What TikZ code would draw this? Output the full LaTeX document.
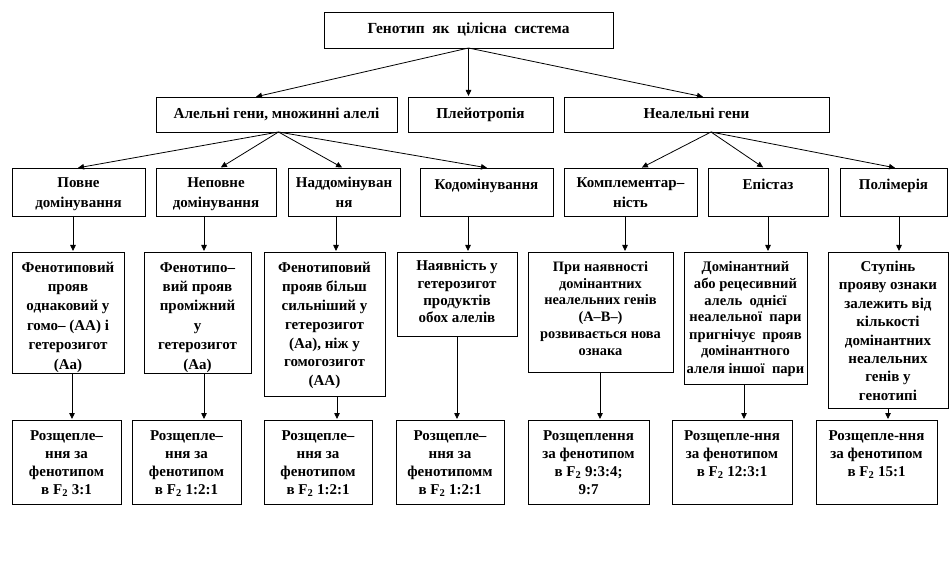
\documentclass[tikz,border=0pt]{standalone}
\usepackage{fontspec}
\setmainfont{Liberation Serif}
\usetikzlibrary{arrows.meta}
\tikzset{
  bx/.style={draw, line width=0.9pt, inner sep=0pt, outer sep=0pt, font=\bfseries},
  arr/.style={line width=0.8pt, -{Triangle[width=5.5pt,length=6pt]}, shorten >=1pt},
}
% name, left, top, right, bottom, font size, baselineskip, first baseline, text
\newcommand\bx[9]{%
  \node[bx, anchor=north west] (#1) at (#2,-#3)
    {\parbox[c][\dimexpr#5pt-#3pt\relax][t]{\dimexpr#4pt-#2pt\relax}%
      {\centering\fontsize{#6pt}{#7pt}\selectfont\rule{0pt}{#8pt}#9\par}};}
\newcommand\Ftwo{F\textsubscript{2}}
\begin{document}
\begin{tikzpicture}[x=1pt,y=1pt]
\useasboundingbox (0,0) rectangle (951,-564);
% level 1
\bx{top}{324}{12}{613}{48}{15.4}{20}{22}{Генотип\ \ як\ \ цілісна\ \ система}
% level 2
\bx{A}{156}{97}{397}{132}{15.2}{20}{21.5}{Алельні гени, множинні алелі}
\bx{P}{408}{97}{553}{132}{15.2}{20}{21.5}{Плейотропія}
\bx{N}{564}{97}{829}{132}{15.2}{20}{21.5}{Неалельні гени}
% level 3
\bx{r3a}{12}{168}{145}{216}{15}{20}{19.5}{Повне\\домінування}
\bx{r3b}{156}{168}{276}{216}{15}{20}{19.5}{Неповне\\домінування}
\bx{r3c}{288}{168}{400}{216}{15}{20}{19.5}{Наддомінуван\\ня}
\bx{r3d}{420}{168}{553}{216}{15}{20}{21.5}{Кодомінування}
\bx{r3e}{564}{168}{697}{216}{15}{20}{19.5}{Комплементар–\\ність}
\bx{r3f}{708}{168}{828}{216}{15}{20}{21.5}{Епістаз}
\bx{r3g}{840}{168}{947}{216}{15}{20}{21.5}{Полімерія}
% level 4
\bx{r4a}{12}{252}{124}{373}{15}{19.5}{20}{Фенотиповий\\прояв\\однаковий у\\гомо– (АА) і\\гетерозигот\\(Аа)}
\bx{r4b}{144}{252}{251}{373}{15}{19.5}{20}{Фенотипо–\\вий прояв\\проміжний\\у\\гетерозигот\\(Аа)}
\bx{r4c}{264}{252}{385}{396}{15}{19}{20}{Фенотиповий\\прояв більш\\сильніший у\\гетерозигот\\(Аа), ніж у\\гомогозигот\\(АА)}
\bx{r4d}{397}{252}{517}{336}{15}{17.3}{19}{Наявність у\\гетерозигот\\продуктів\\обох алелів}
\bx{r4e}{528}{252}{673}{372}{14.4}{17}{19}{При наявності\\домінантних\\неалельних генів\\(А–В–)\\розвивається нова\\ознака}
\bx{r4f}{684}{252}{807}{384}{14.6}{17}{19}{Домінантний\\або рецесивний\\алель\ \ однієї\\неалельної\ \ пари\\пригнічує\ \ прояв\\домінантного\\алеля іншої\ \ пари}
\bx{r4g}{828}{252}{948}{408}{15}{18.4}{19.5}{Ступінь\\прояву ознаки\\залежить від\\кількості\\домінантних\\неалельних\\генів у\\генотипі}
% level 5
\bx{r5a}{12}{420}{121}{504}{15}{18}{20}{Розщепле–\\ння за\\фенотипом\\в \Ftwo\ 3:1}
\bx{r5b}{132}{420}{241}{504}{15}{18}{20}{Розщепле–\\ння за\\фенотипом\\в \Ftwo\ 1:2:1}
\bx{r5c}{264}{420}{372}{504}{15}{18}{20}{Розщепле–\\ння за\\фенотипом\\в \Ftwo\ 1:2:1}
\bx{r5d}{396}{420}{504}{504}{15}{18}{20}{Розщепле–\\ння за\\фенотипомм\\в \Ftwo\ 1:2:1}
\bx{r5e}{528}{420}{649}{504}{15}{18}{20}{Розщеплення\\за фенотипом\\в \Ftwo\ 9:3:4;\\9:7}
\bx{r5f}{672}{420}{792}{504}{15}{18}{20}{Розщепле-ння\\за фенотипом\\в \Ftwo\ 12:3:1}
\bx{r5g}{816}{420}{937}{504}{15}{18}{20}{Розщепле-ння\\за фенотипом\\в \Ftwo\ 15:1}
% connectors level 1 -> 2
\draw[arr] (top.south) -- ([xshift=-21.5pt]A.north);
\draw[arr] (top.south) -- (top.south |- P.north);
\draw[arr] (top.south) -- ([xshift=7.5pt]N.north);
% level 2 -> 3
\coordinate (As) at ([xshift=2pt]A.south);
\coordinate (Ns) at ([xshift=14.5pt]N.south);
\draw[arr] (As) -- ([xshift=-1.5pt]r3a.north);
\draw[arr] (As) -- ([xshift=4pt]r3b.north);
\draw[arr] (As) -- ([xshift=-1pt]r3c.north);
\draw[arr] (As) -- ([xshift=1.5pt]r3d.north);
\draw[arr] (Ns) -- ([xshift=10.5pt]r3e.north);
\draw[arr] (Ns) -- ([xshift=-4pt]r3f.north);
\draw[arr] (Ns) -- ([xshift=2.5pt]r3g.north);
% level 3 -> 4
\foreach \c/\x in {a/73,b/204,c/336,d/468,e/625,f/768,g/899}{
  \coordinate (u\c) at (\x,0);
  \draw[arr] (r3\c.south -| u\c) -- (r4\c.north -| u\c);
}
% level 4 -> 5
\foreach \c/\x in {a/72,b/204,c/337,d/457,e/600,f/744,g/888}{
  \coordinate (w\c) at (\x,0);
  \draw[arr] (r4\c.south -| w\c) -- (r5\c.north -| w\c);
}
\end{tikzpicture}
\end{document}
